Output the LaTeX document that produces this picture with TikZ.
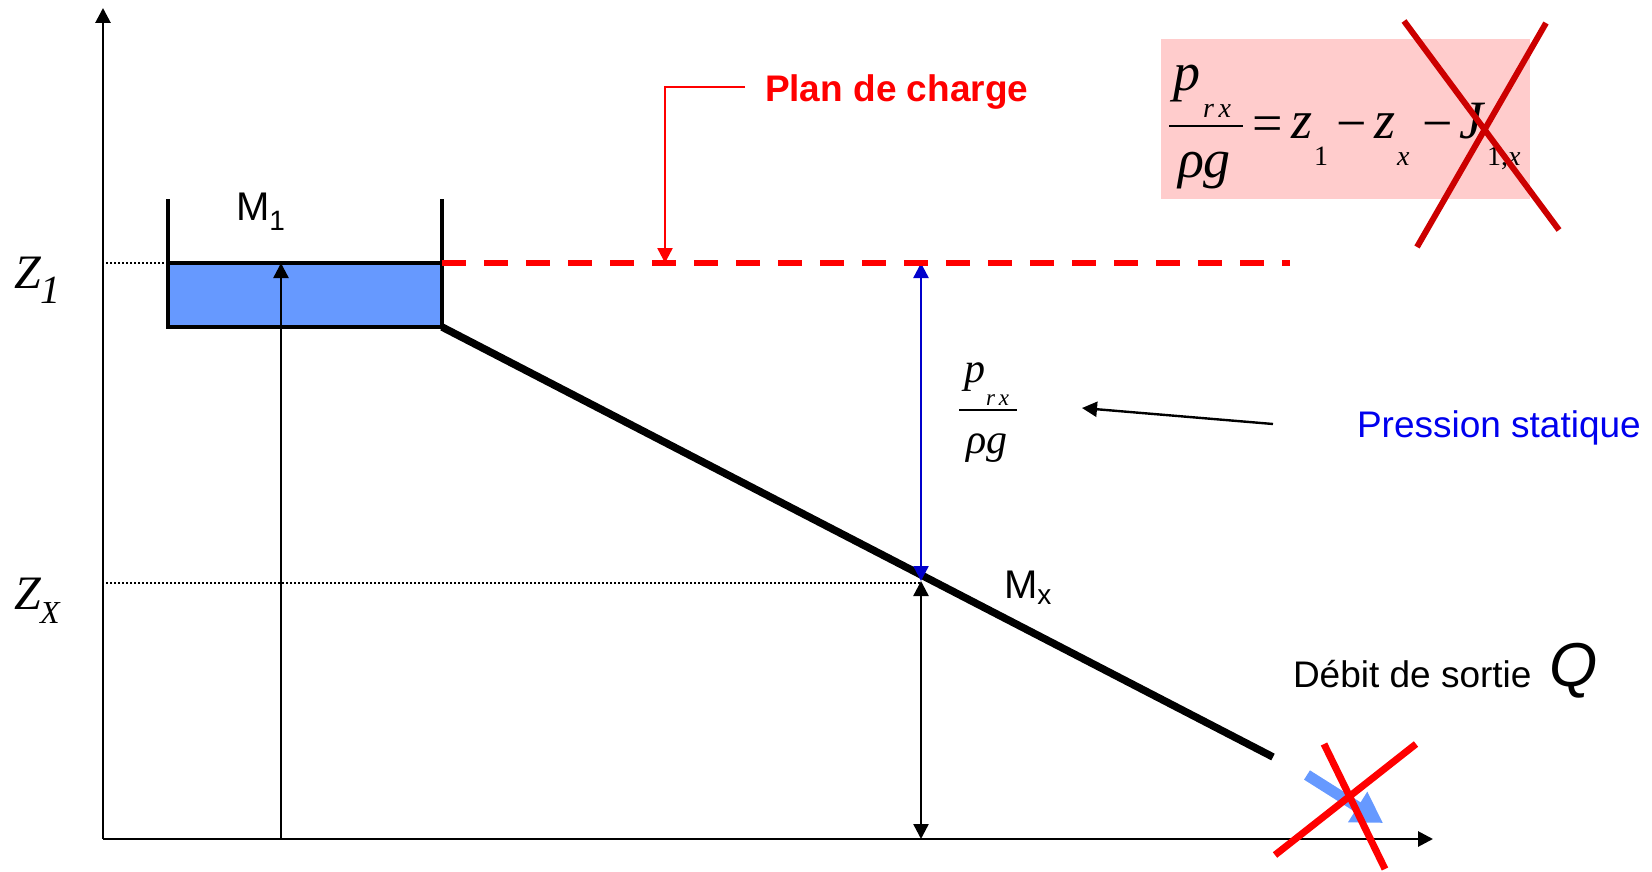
\documentclass[tikz,border=0pt]{standalone}
\usepackage{fontspec}
\setmainfont{Liberation Serif}
\setsansfont{Liberation Sans}
\usetikzlibrary{arrows.meta}
\definecolor{water}{HTML}{6699FF}
\definecolor{pinkbg}{HTML}{FFCCCC}
\definecolor{crossdark}{HTML}{CC0000}
\definecolor{arrowblue}{HTML}{0000CC}
\definecolor{textblue}{HTML}{0000EE}
\newcommand{\fsz}[1]{\fontsize{#1}{#1}\selectfont}
\begin{document}
\begin{tikzpicture}[x=1pt,y=-1pt,
  tip/.style={-{Triangle[length=15pt,width=15pt]}},
  twotips/.style={{Triangle[length=15pt,width=15pt]}-{Triangle[length=15pt,width=15pt]}},
  lbl/.style={inner sep=0pt, outer sep=0pt, anchor=base west},
  sanslbl/.style={lbl, font=\sffamily\fsz{37}},
  bigit/.style={lbl, font=\itshape\fsz{54}},
  bigup/.style={lbl, font=\fsz{54}},
  subit/.style={lbl, font=\itshape\fsz{28}},
  subup/.style={lbl, font=\fsz{28}},
  dotline/.style={line width=1.6pt, dash pattern=on 1.6pt off 2.4pt},
  cross/.style={line width=6pt}
]
\useasboundingbox (0,0) rectangle (1652,872);

% key points
\coordinate (O) at (103,839);
\coordinate (Ytop) at (103,8);
\coordinate (Xend) at (1433,839);
\coordinate (TL) at (168,199);
\coordinate (TR) at (442,199);
\coordinate (WL) at (168,263);
\coordinate (WR) at (442,263);
\coordinate (BL) at (168,327);
\coordinate (BR) at (442,327);
\coordinate (PipeEnd) at (1273,757);
\coordinate (A1b) at (281,839);
\coordinate (A1t) at (281,263);
\coordinate (H1) at (921,263);
\coordinate (Mx) at (921,581);
\coordinate (H0) at (921,839);
\coordinate (Z1s) at (106,263);
\coordinate (Zxs) at (106,583);
\coordinate (Zxe) at (921,583);
\coordinate (Dend) at (1290,263);
\coordinate (C1) at (745,87);
\coordinate (C2) at (665,87);
\coordinate (C3) at (665,263);
\coordinate (PSa) at (1273,424);
\coordinate (PSb) at (1082,408);

% pink formula background
\fill[pinkbg] (1161,39) rectangle (1530,199);

% dotted level lines
\draw[dotline] (Z1s) -- (WL);
\draw[dotline] (Zxs) -- (Zxe);

% axes
\draw[line width=2.8pt, tip] (O) -- (Ytop);
\draw[line width=2.8pt, tip] (O) -- (Xend);

% tank
\draw[line width=3.2pt, fill=water] (WL) rectangle (BR);
\draw[line width=3.2pt] (TL) -- (WL);
\draw[line width=3.2pt] (TR) -- (WR);

% pipe
\draw[line width=7.5pt] (BR) -- (PipeEnd);

% vertical arrows
\draw[line width=2.4pt, tip] (A1b) -- (A1t);
\draw[line width=2.4pt, arrowblue, twotips] (H1) -- (Mx);
\draw[line width=2.4pt, twotips] (Mx) -- (H0);

% plan de charge
\draw[red, line width=6pt, dash pattern=on 24pt off 18pt] (WR) -- (Dend);
\draw[red, line width=2.4pt, tip] (C1) -- (C2) -- (C3);
\node[sanslbl, font=\sffamily\bfseries\fsz{37}, text=red] (plan) at (765,102) {Plan de charge};

% labels
\node[lbl, font=\itshape\fsz{48}] (z1) at (14,288) {Z};
\node[lbl, font=\itshape\fsz{40}] (z1s) at (40,303) {1};
\node[lbl, font=\itshape\fsz{48}] (zx) at (14,609) {Z};
\node[lbl, font=\itshape\fsz{32}] (zxs) at (40,623) {X};
\node[sanslbl, font=\sffamily\fsz{40}] (m1) at (236,220) {M\textsubscript{1}};
\node[sanslbl, font=\sffamily\fsz{40}] (mx) at (1004,598) {M\textsubscript{x}};

% small fraction
\node[lbl, font=\itshape\fsz{42}] (fp) at (964,382) {p};
\node[lbl, font=\itshape\fsz{23}] (frx) at (986,405) {r\,x};
\draw[line width=2pt] (959,410) -- (1017,410);
\node[lbl, font=\itshape\fsz{42}] (frg) at (966,453) {ρg};

% pression statique
\node[sanslbl, text=textblue] (ps) at (1357,437) {Pression statique};
\draw[line width=2.4pt, tip] (PSa) -- (PSb);

% debit
\node[sanslbl] (deb) at (1293,687) {Débit de sortie};
\node[lbl, font=\sffamily\itshape\fsz{62}] (q) at (1549,686) {Q};

% big formula
\node[bigit] (eqp) at (1173,91) {p};
\node[subit] (eqrx) at (1203,118) {r\,x};
\draw[line width=2.6pt] (1169,126) -- (1243,126);
\node[bigit] (eqrg) at (1178,177) {ρg};
\node[bigup] (eqeq) at (1252,142) {=};
\node[bigit] (eqz1) at (1291,139) {z};
\node[subup] (eqs1) at (1314,166) {1};
\node[bigup] (eqm1) at (1336,142) {−};
\node[bigit] (eqzx) at (1374,139) {z};
\node[subit] (eqsx) at (1397,166) {x};
\node[bigup] (eqm2) at (1422,142) {−};
\node[bigit] (eqJ) at (1459,139) {J};
\node[subup] (eqs2) at (1487,166) {1,\textit{x}};
\draw[crossdark, cross] (1404,21) -- (1559,230);
\draw[crossdark, cross] (1417,247) -- (1546,23);

% outflow arrow and cross
\draw[water, line width=11pt, -{Triangle[length=30pt,width=34pt]}] (1307,775) -- (1383,823);
\draw[red, line width=7pt] (1324,744) -- (1385,869);
\draw[red, line width=7pt] (1275,855) -- (1416,744);
\end{tikzpicture}
\end{document}
